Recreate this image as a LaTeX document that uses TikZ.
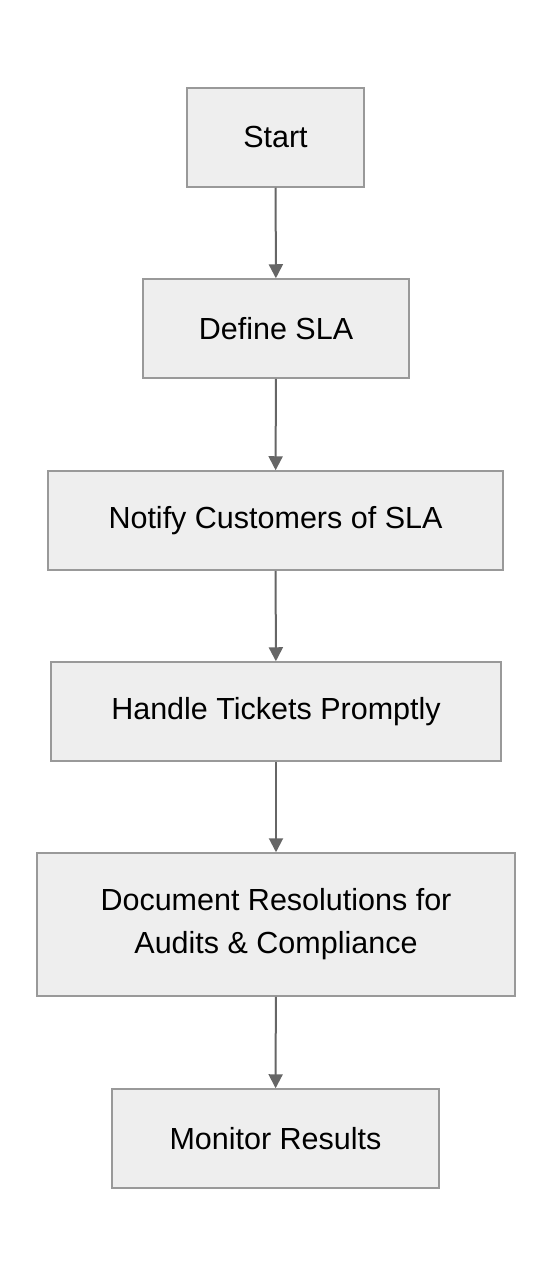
\documentclass[tikz,border=0pt]{standalone}
\usepackage{fontspec}
\setmainfont{Liberation Sans}
\usetikzlibrary{arrows.meta}
\definecolor{boxfill}{HTML}{EEEEEE}
\definecolor{boxline}{HTML}{999999}
\definecolor{arrowc}{HTML}{666666}
\tikzset{
  flowbox/.style={draw=boxline, line width=1.5pt, fill=boxfill, rectangle,
    inner sep=0pt, align=center, font=\fontsize{30.5}{43}\selectfont, text=black},
  flowarrow/.style={draw=arrowc, line width=2pt, -{Triangle[length=14pt,width=14pt]}}
}
\begin{document}
\begin{tikzpicture}[x=1pt,y=-1pt]
\useasboundingbox (0,0) rectangle (552,1276);
\node[flowbox, minimum width=177pt, minimum height=99pt] (start) at (275.5,137.5) {Start};
\node[flowbox, minimum width=266pt, minimum height=99pt] (sla) at (276,328.5) {Define SLA};
\node[flowbox, minimum width=455pt, minimum height=99pt] (notify) at (275.5,520.5) {Notify Customers of SLA};
\node[flowbox, minimum width=450pt, minimum height=99pt] (handle) at (276,711.5) {Handle Tickets Promptly};
\node[flowbox, minimum width=478pt, minimum height=143pt] (doc) at (276,924.5) {Document Resolutions for\\Audits \& Compliance};
\node[flowbox, minimum width=327pt, minimum height=99pt] (monitor) at (275.5,1138.5) {Monitor Results};
\draw[flowarrow] (start) -- (sla);
\draw[flowarrow] (sla) -- (notify);
\draw[flowarrow] (notify) -- (handle);
\draw[flowarrow] (handle) -- (doc);
\draw[flowarrow] (doc) -- (monitor);
\end{tikzpicture}
\end{document}
